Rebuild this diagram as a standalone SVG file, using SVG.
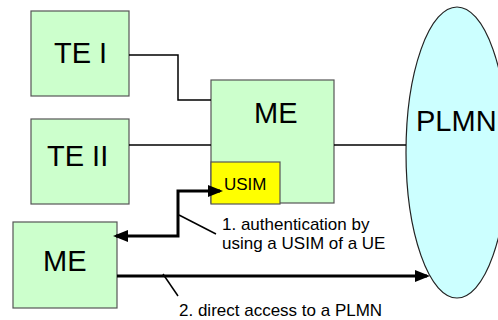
<svg xmlns="http://www.w3.org/2000/svg" width="498" height="320" viewBox="0 0 498 320">
<style>
.box{fill:#CCFFCC;stroke:#555;stroke-width:1.2}
.usim{fill:#FFFF00;stroke:#555;stroke-width:1.2}
.cloud{fill:#CCFFFF;stroke:#222;stroke-width:1.2}
.big{font-family:"Liberation Sans",Arial,sans-serif;font-size:29px;fill:#000}
.small{font-family:"Liberation Sans",Arial,sans-serif;font-size:17px;fill:#000}
.thin{fill:none;stroke:#000;stroke-width:1.5}
.thick{fill:none;stroke:#000;stroke-width:3}
</style>
<defs>
<marker id="ah" markerUnits="userSpaceOnUse" markerWidth="15" markerHeight="12" refX="12" refY="6" orient="auto-start-reverse">
<path d="M0,0 L15,6 L0,12 Z" fill="#000"/>
</marker>
</defs>
<g id="plmn">
<ellipse class="cloud" cx="457" cy="152.5" rx="51" ry="145.5"/>
<text class="big" x="416" y="131">PLMN</text>
</g>
<g id="te1">
<rect class="box" x="31" y="11" width="98" height="85"/>
<text class="big" x="54" y="63">TE I</text>
</g>
<g id="te2">
<rect class="box" x="31" y="119" width="98" height="85"/>
<text class="big" x="47" y="166">TE II</text>
</g>
<g id="me-ue">
<rect class="box" x="211" y="80" width="123" height="123"/>
<text class="big" x="254" y="123">ME</text>
</g>
<g id="usim">
<rect class="usim" x="211" y="162" width="69" height="42"/>
<text class="small" x="224" y="190">USIM</text>
</g>
<g id="me">
<rect class="box" x="13" y="222" width="104" height="86"/>
<text class="big" x="43" y="271">ME</text>
</g>
<g id="connectors">
<polyline class="thin" points="129,55 178,55 178,100 211,100"/>
<line class="thin" x1="129" y1="145" x2="211" y2="145"/>
<line class="thin" x1="334" y1="145" x2="406" y2="145"/>
<polyline class="thick" points="116,236 178,236 178,191 220,191" marker-start="url(#ah)" marker-end="url(#ah)"/>
<line class="thick" x1="117" y1="276" x2="427" y2="276" marker-end="url(#ah)"/>
<line class="thin" x1="179" y1="215" x2="216" y2="234"/>
<line class="thin" x1="163" y1="274" x2="178" y2="296"/>
</g>
<g id="labels">
<text class="small" x="222" y="230">1. authentication by</text>
<text class="small" x="222" y="249">using a USIM of a UE</text>
<text class="small" x="179" y="316">2. direct access to a PLMN</text>
</g>
</svg>
